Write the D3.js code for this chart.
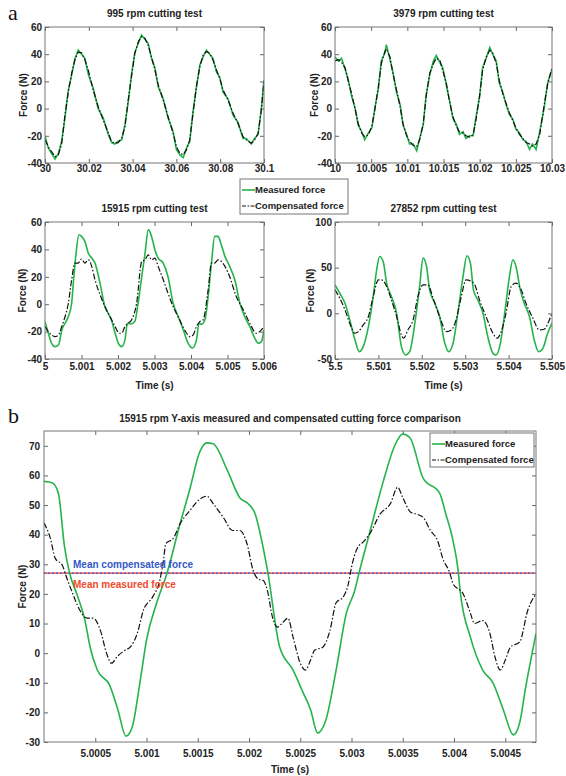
<!DOCTYPE html>
<html>
<head>
<meta charset="utf-8">
<script src="https://cdn.jsdelivr.net/npm/d3@7"></script>
<style>
  body { margin: 0; background: #fff; }
  text { font-family: "Liberation Sans", Arial, sans-serif; }
</style>
</head>
<body>
<svg id="chart" width="566" height="776"></svg>
<script>
// ---- 995 rpm ----
const t995 = [30.0000, 30.0015, 30.0030, 30.0046, 30.0061, 30.0076, 30.0091, 30.0106, 30.0122, 30.0137,
  30.0152, 30.0167, 30.0182, 30.0198, 30.0220, 30.0243, 30.0266, 30.0289, 30.0304, 30.0319,
  30.0334, 30.0350, 30.0365, 30.0380, 30.0395, 30.0410, 30.0426, 30.0441, 30.0456, 30.0471,
  30.0486, 30.0502, 30.0517, 30.0540, 30.0562, 30.0585, 30.0600, 30.0616, 30.0631, 30.0646,
  30.0661, 30.0676, 30.0691, 30.0707, 30.0722, 30.0737, 30.0752, 30.0767, 30.0783, 30.0798,
  30.0813, 30.0836, 30.0859, 30.0881, 30.0904, 30.0919, 30.0942, 30.0957, 30.0973, 30.0988, 30.1000];
const measured995 = [-20, -29, -33, -37, -33, -24, -7, 13, 25, 37, 43, 40, 37, 25, 15, 0, -7, -19, -25, -26,
  -24, -23, -12, 5, 25, 41, 48, 54, 51, 48, 37, 30, 16, 7, -7, -17, -30, -34, -36, -29,
  -24, -2, 15, 32, 38, 43, 40, 37, 27, 23, 12, 7, -5, -10, -22, -22, -26, -22, -19, 0, 21];
const compensated995 = [-23, -28, -31.7, -35.3, -34, -26, -5, 12, 26, 36, 41.5, 41, 36, 28, 13.7, 1.4, -8.4, -18, -24.3, -25.5,
  -25, -21.9, -13.3, 6.3, 23.5, 40.6, 49.2, 52.9, 51.7, 46.8, 38.2, 28.4, 17.4, 6.3, -6, -18, -28, -32.9, -34, -30.4,
  -23, -3.5, 16, 30.8, 39.4, 41.9, 40.6, 35.7, 28.4, 22.3, 13.7, 6.3, -3.5, -10.8, -20.6, -23, -25.5, -23, -18.2, -1, 21];
const xTicks995 = [30, 30.02, 30.04, 30.06, 30.08, 30.1];

// ---- 3979 rpm ----
const t3979 = [10.0000, 10.0005, 10.0009, 10.0014, 10.0018, 10.0023, 10.0028, 10.0032, 10.0037, 10.0041,
  10.0046, 10.0051, 10.0055, 10.0060, 10.0064, 10.0069, 10.0071, 10.0076, 10.0080, 10.0085,
  10.0090, 10.0094, 10.0099, 10.0103, 10.0108, 10.0113, 10.0117, 10.0122, 10.0126, 10.0131,
  10.0136, 10.0140, 10.0145, 10.0149, 10.0154, 10.0158, 10.0163, 10.0168, 10.0172, 10.0177,
  10.0181, 10.0186, 10.0191, 10.0195, 10.0200, 10.0204, 10.0209, 10.0214, 10.0218, 10.0223,
  10.0227, 10.0232, 10.0237, 10.0241, 10.0246, 10.0250, 10.0255, 10.0260, 10.0264, 10.0269,
  10.0273, 10.0278, 10.0283, 10.0289, 10.0294, 10.0300];
const measured3979 = [38, 35, 37, 29, 22, 9, 0, -12, -17, -23, -18, -14, 0, 15, 35, 41, 47, 36, 27, 12,
  3, -12, -19, -26, -26, -31, -22, -12, 10, 25, 35, 39, 34, 30, 17, 7, -7, -12, -19, -17,
  -22, -20, -20, -6, 9, 30, 37, 45, 40, 35, 19, 12, 2, -4, -8, -15, -18, -23, -24, -30,
  -26, -30, -17, 0, 19, 29];
const compensated3979 = [35, 36, 34, 30, 21, 11, -1, -11, -18, -20.6, -19.5, -13, -1, 16, 33, 42, 44, 38, 26, 14,
  1.5, -11, -20, -24, -27, -28, -23, -11, 9, 26, 33, 37, 35.5, 28, 18.5, 6, -6, -13, -17, -18,
  -20, -21, -19, -8, 10, 28, 38, 43, 41, 33, 21, 11, 3, -3, -9, -14, -19, -22, -25, -26,
  -27.5, -26, -19, 2, 18, 30];
const xTicks3979 = [10, 10.005, 10.01, 10.015, 10.02, 10.025, 10.03];

// ---- 15915 rpm ----
const t15915m = [5.00000, 5.00009, 5.00018, 5.00027, 5.00037, 5.00046, 5.00055, 5.00064, 5.00073, 5.00079,
  5.00085, 5.00093, 5.00100, 5.00109, 5.00119, 5.00128, 5.00137, 5.00151, 5.00164, 5.00173,
  5.00182, 5.00192, 5.00201, 5.00210, 5.00219, 5.00226, 5.00235, 5.00246, 5.00255, 5.00265,
  5.00274, 5.00283, 5.00292, 5.00301, 5.00310, 5.00324, 5.00337, 5.00351, 5.00365, 5.00379,
  5.00392, 5.00404, 5.00415, 5.00422, 5.00429, 5.00438, 5.00447, 5.00456, 5.00465, 5.00474,
  5.00483, 5.00493, 5.00506, 5.00520, 5.00534, 5.00547, 5.00561, 5.00575, 5.00584, 5.00593, 5.00600];
const measured15915 = [-12.7, -21, -28.5, -31, -29.8, -18.8, -13.9, -9, 0.7, 20, 37, 50.7, 49.5, 46, 37, 33.7, 30, 15, -1.7, -6.6,
  -11.5, -21, -28.5, -31, -26, -13.9, -14.4, -12.7, 0.7, 20, 37, 54.4, 49.5, 39.8, 33.7, 30, 20, 0.7, -9, -18.8,
  -28.5, -32, -26, -13.9, -14.6, -11.5, 5.6, 30, 49.5, 49.5, 43.4, 34.9, 27.6, 17.8, 0.7, -9, -16.3, -24.9, -28.5, -27.3, -18.8];
const t15915c = [5.00000, 5.00009, 5.00018, 5.00027, 5.00037, 5.00046, 5.00055, 5.00064, 5.00073, 5.00082,
  5.00091, 5.00100, 5.00109, 5.00119, 5.00128, 5.00137, 5.00151, 5.00164, 5.00178, 5.00192,
  5.00203, 5.00210, 5.00219, 5.00228, 5.00237, 5.00251, 5.00265, 5.00274, 5.00283, 5.00292,
  5.00301, 5.00310, 5.00324, 5.00337, 5.00351, 5.00369, 5.00388, 5.00397, 5.00406, 5.00415,
  5.00424, 5.00433, 5.00447, 5.00456, 5.00465, 5.00474, 5.00483, 5.00493, 5.00506, 5.00524,
  5.00543, 5.00561, 5.00579, 5.00588, 5.00600];
const compensated15915 = [-16.3, -20, -22.4, -23.7, -22.4, -16.3, -9, 0.7, 17.8, 30, 30, 33, 30, 32.4, 27.6, 17.8, 6.8, -1.7, -9, -16.3,
  -21.2, -21.2, -16.3, -13.9, -11.5, 0.7, 31.2, 32.4, 36, 32.4, 33.7, 27.6, 17.8, 8, -1.7, -11.5, -21.2, -23.7, -22.4, -16.3,
  -12.7, -11.5, 10.5, 30, 30, 32.4, 31.2, 27.6, 20, 5.6, -4, -13.9, -21.2, -20, -16.3];
const xTicks15915 = [5, 5.001, 5.002, 5.003, 5.004, 5.005, 5.006];

// ---- 27852 rpm ----
const t27852m = [5.50000, 5.50011, 5.50023, 5.50034, 5.50046, 5.50056, 5.50065, 5.50077, 5.50088, 5.50096,
  5.50103, 5.50111, 5.50119, 5.50130, 5.50142, 5.50153, 5.50163, 5.50172, 5.50184, 5.50195,
  5.50203, 5.50211, 5.50218, 5.50230, 5.50241, 5.50253, 5.50262, 5.50272, 5.50283, 5.50295,
  5.50304, 5.50312, 5.50319, 5.50329, 5.50341, 5.50352, 5.50364, 5.50371, 5.50381, 5.50391,
  5.50402, 5.50410, 5.50417, 5.50427, 5.50436, 5.50448, 5.50459, 5.50469, 5.50479, 5.50490, 5.50500];
const measured27852 = [31.2, 22, 11, -7.2, -29, -42, -36.5, -14.5, 18.4, 47.7, 62.3, 56.8, 33, 18.4, 0.1, -36.5, -45.6, -42, -10.8, 29.4,
  60.5, 51.3, 25.7, 11, -3.5, -32.8, -42, -32.8, 0.1, 40.4, 63, 55, 25.7, 14.7, 0.1, -25.5, -43.8, -45.6, -32.8, 0.1,
  40.4, 58.6, 51.3, 25.7, 11, -3.5, -29, -42, -38.3, -21.8, -10.8];
const t27852c = [5.50000, 5.50011, 5.50023, 5.50034, 5.50046, 5.50054, 5.50065, 5.50077, 5.50088, 5.50100,
  5.50107, 5.50119, 5.50130, 5.50142, 5.50153, 5.50158, 5.50168, 5.50180, 5.50191, 5.50203,
  5.50214, 5.50226, 5.50241, 5.50257, 5.50268, 5.50279, 5.50291, 5.50302, 5.50314, 5.50322,
  5.50333, 5.50348, 5.50364, 5.50373, 5.50383, 5.50394, 5.50406, 5.50417, 5.50429, 5.50440,
  5.50456, 5.50471, 5.50482, 5.50494, 5.50500];
const compensated27852 = [25.7, 16.6, 3.8, -10.8, -21.8, -20, -12.7, -3.5, 18.4, 36.7, 36.7, 29.4, 14.7, -3.5, -23.7, -27.3, -18.2, -7.2, 18.4, 31.2,
  31.2, 16.6, -3.5, -20, -18.2, -7.2, 18.4, 36.7, 34.9, 31.2, 14.7, -3.5, -21.8, -27.3, -20, 0.1, 29.4, 33, 25.7, 11,
  -5.4, -18.2, -17.4, -7.2, 0.1];
const xTicks27852 = [5.5, 5.501, 5.502, 5.503, 5.504, 5.505];

// ---- panel b: 15915 rpm Y-axis ----
const tBm = [5.00000, 5.00008, 5.00014, 5.00020, 5.00025, 5.00032, 5.00040, 5.00045, 5.00052, 5.00064,
  5.00072, 5.00080, 5.00086, 5.00094, 5.00100, 5.00110, 5.00120, 5.00133, 5.00142, 5.00152,
  5.00159, 5.00165, 5.00179, 5.00191, 5.00199, 5.00206, 5.00213, 5.00218, 5.00230, 5.00243,
  5.00253, 5.00260, 5.00267, 5.00275, 5.00285, 5.00295, 5.00303, 5.00308, 5.00318, 5.00331,
  5.00343, 5.00350, 5.00357, 5.00370, 5.00386, 5.00392, 5.00399, 5.00404, 5.00406, 5.00416,
  5.00428, 5.00438, 5.00448, 5.00458, 5.00464, 5.00470, 5.00480];
const measuredB = [58, 57.5, 54, 36, 27, 20, 11, 2, -5.7, -10.8, -19, -28, -25, -9, 4.4, 17, 27, 44, 55, 68,
  71, 70.7, 61.6, 52.5, 50.5, 47, 37, 28, 2, -5.7, -13.5, -19, -27, -22.6, -5.7, 13.5, 21, 28, 41, 58,
  70.7, 74, 72.7, 59, 54, 47, 38, 28, 21, 5.4, -5.7, -10, -19, -27.6, -23.6, -11.4, 6.7];
const tBc = [5.00000, 5.00006, 5.00011, 5.00018, 5.00022, 5.00027, 5.00035, 5.00042, 5.00048, 5.00055,
  5.00061, 5.00066, 5.00071, 5.00079, 5.00084, 5.00091, 5.00097, 5.00106, 5.00113, 5.00116,
  5.00119, 5.00126, 5.00133, 5.00142, 5.00152, 5.00159, 5.00165, 5.00175, 5.00184, 5.00191,
  5.00198, 5.00204, 5.00209, 5.00214, 5.00218, 5.00223, 5.00228, 5.00232, 5.00238, 5.00243,
  5.00250, 5.00255, 5.00260, 5.00264, 5.00272, 5.00279, 5.00285, 5.00292, 5.00297, 5.00300,
  5.00306, 5.00311, 5.00318, 5.00328, 5.00338, 5.00345, 5.00350, 5.00358, 5.00363, 5.00370,
  5.00377, 5.00384, 5.00389, 5.00396, 5.00399, 5.00409, 5.00416, 5.00420, 5.00428, 5.00435,
  5.00440, 5.00445, 5.00450, 5.00455, 5.00464, 5.00472, 5.00480];
const compensatedB = [44, 39, 32, 29.6, 25.6, 21, 14.5, 11.8, 11.8, 7.7, 0, -3.4, -1.3, 1, 2, 6.7, 14.5, 19, 24.6, 30,
  37, 38.7, 43.8, 48, 52, 53, 50.5, 45.8, 41.4, 41.4, 37, 28, 25, 24.5, 21, 12, 8.8, 10, 11.8, 5.4,
  -3.4, -5.7, -2.4, 1, 2, 7.7, 17, 19, 23.5, 29, 35.7, 37.4, 40.4, 47, 50.5, 56, 52.5, 47.5, 47, 45.8,
  41.4, 38, 32, 27, 23.5, 20, 13.5, 10, 11, 6.7, -1.3, -5.7, -2.4, 2, 3.7, 14.5, 20];
const meanMeasuredB = 27;
const meanCompensatedB = 27;
const xTicksB = [5.0005, 5.001, 5.0015, 5.002, 5.0025, 5.003, 5.0035, 5.004, 5.0045];
const yTicksB = [-30, -20, -10, 0, 10, 20, 30, 40, 50, 60, 70];

const yTicksA = [-40, -20, 0, 20, 40, 60];
const yTicks27852 = [-50, 0, 50, 100];

const green = "#25b34b";
const dashDot = "6,2,1.5,2";
const svg = d3.select("#chart");

function zip(t, v) {
  return t.map((d, i) => [d, v[i]]);
}

let clipId = 0;

function drawPanel(cfg) {
  const g = svg.append("g")
    .attr("transform", `translate(${cfg.left},${cfg.top})`);

  const x = d3.scaleLinear().domain(cfg.xDomain).range([0, cfg.width]);
  const y = d3.scaleLinear().domain(cfg.yDomain).range([cfg.height, 0]);

  const id = "clip" + (clipId++);
  g.append("clipPath").attr("id", id)
    .append("rect").attr("width", cfg.width).attr("height", cfg.height);

  const fmt = d => String(d);
  const fs = cfg.fontSize || 10;

  // axes, matlab style ticks pointing inward on all four sides
  const xb = g.append("g").attr("transform", `translate(0,${cfg.height})`)
    .call(d3.axisBottom(x).tickValues(cfg.xTicks).tickFormat(fmt)
      .tickSizeInner(-4).tickSizeOuter(0).tickPadding(cfg.xPad));
  const xt = g.append("g")
    .call(d3.axisTop(x).tickValues(cfg.xTicks).tickFormat("")
      .tickSizeInner(-4).tickSizeOuter(0));
  const yl = g.append("g")
    .call(d3.axisLeft(y).tickValues(cfg.yTicks).tickFormat(fmt)
      .tickSizeInner(-4).tickSizeOuter(0).tickPadding(cfg.yPad));
  const yr = g.append("g").attr("transform", `translate(${cfg.width},0)`)
    .call(d3.axisRight(y).tickValues(cfg.yTicks).tickFormat("")
      .tickSizeInner(-4).tickSizeOuter(0));

  [xb, xt, yl, yr].forEach(a => {
    a.select(".domain").remove();
    a.selectAll("line").attr("stroke", "#666");
    a.selectAll("text")
      .style("font-family", '"Liberation Sans", Arial, sans-serif')
      .attr("font-size", fs)
      .attr("font-weight", "bold")
      .attr("fill", "#222");
  });

  const plot = g.append("g").attr("clip-path", `url(#${id})`);

  if (cfg.means) {
    cfg.means.forEach(m => {
      plot.append("line")
        .attr("x1", 0).attr("x2", cfg.width)
        .attr("y1", y(m.value)).attr("y2", y(m.value))
        .attr("stroke", m.color).attr("stroke-width", 1.3)
        .attr("stroke-dasharray", m.dash);
    });
  }

  const line = d3.line()
    .x(d => x(d[0]))
    .y(d => y(d[1]))
    .curve(cfg.smooth ? d3.curveMonotoneX : d3.curveLinear);

  plot.append("path")
    .datum(zip(cfg.tMeasured, cfg.measured))
    .attr("fill", "none")
    .attr("stroke", green)
    .attr("stroke-width", 1.6)
    .attr("d", line);

  plot.append("path")
    .datum(zip(cfg.tCompensated, cfg.compensated))
    .attr("fill", "none")
    .attr("stroke", "#111")
    .attr("stroke-width", 1.2)
    .attr("stroke-dasharray", dashDot)
    .attr("d", line);

  // box
  g.append("rect")
    .attr("width", cfg.width).attr("height", cfg.height)
    .attr("fill", "none").attr("stroke", "#777").attr("stroke-width", 1);

  // title
  g.append("text")
    .attr("x", cfg.width / 2).attr("y", cfg.titleY)
    .attr("text-anchor", "middle")
    .attr("font-size", fs).attr("font-weight", "bold").attr("fill", "#222")
    .text(cfg.title);

  // y label
  g.append("text")
    .attr("transform", `translate(${-cfg.yLabelOffset},${cfg.height / 2}) rotate(-90)`)
    .attr("text-anchor", "middle")
    .attr("dy", "0.35em")
    .attr("font-size", fs).attr("font-weight", "bold").attr("fill", "#222")
    .text("Force (N)");

  if (cfg.xLabelY) {
    g.append("text")
      .attr("x", cfg.width / 2).attr("y", cfg.xLabelY)
      .attr("text-anchor", "middle")
      .attr("font-size", fs).attr("font-weight", "bold").attr("fill", "#222")
      .text("Time (s)");
  }

  return { g, x, y };
}

function drawLegend(x0, y0, w, h) {
  const lg = svg.append("g").attr("transform", `translate(${x0},${y0})`);
  lg.append("rect")
    .attr("width", w).attr("height", h)
    .attr("fill", "#fff").attr("stroke", "#777");
  const rows = [
    { label: "Measured force", color: green, dash: null, width: 1.6 },
    { label: "Compensated force", color: "#111", dash: "4,1.5,1.5,1.5", width: 1.2 }
  ];
  rows.forEach((r, i) => {
    const yy = 11 + i * 16;
    lg.append("line")
      .attr("x1", 2).attr("x2", 15).attr("y1", yy).attr("y2", yy)
      .attr("stroke", r.color).attr("stroke-width", r.width)
      .attr("stroke-dasharray", r.dash);
    lg.append("text")
      .attr("x", 15).attr("y", yy).attr("dy", "0.35em")
      .attr("font-size", 9.5).attr("font-weight", "bold").attr("fill", "#222")
      .text(r.label);
  });
}

// ---- part a ----
drawPanel({
  left: 45, top: 27, width: 219, height: 136,
  xDomain: [30, 30.1], yDomain: [-40, 60],
  xTicks: xTicks995, yTicks: yTicksA, xPad: 2, yPad: 3,
  tMeasured: t995, measured: measured995,
  tCompensated: t995, compensated: compensated995,
  title: "995 rpm cutting test", titleY: -10, yLabelOffset: 22
});

drawPanel({
  left: 335, top: 27, width: 217, height: 136,
  xDomain: [10, 10.03], yDomain: [-40, 60],
  xTicks: xTicks3979, yTicks: yTicksA, xPad: 2, yPad: 3,
  tMeasured: t3979, measured: measured3979,
  tCompensated: t3979, compensated: compensated3979,
  title: "3979 rpm cutting test", titleY: -10, yLabelOffset: 21
});

drawPanel({
  left: 45, top: 222, width: 219, height: 137,
  xDomain: [5, 5.006], yDomain: [-40, 60],
  xTicks: xTicks15915, yTicks: yTicksA, xPad: 4, yPad: 3, smooth: true,
  tMeasured: t15915m, measured: measured15915,
  tCompensated: t15915c, compensated: compensated15915,
  title: "15915 rpm cutting test", titleY: -10, yLabelOffset: 23, xLabelY: 167
});

drawPanel({
  left: 335, top: 222, width: 217, height: 137,
  xDomain: [5.5, 5.505], yDomain: [-50, 100],
  xTicks: xTicks27852, yTicks: yTicks27852, xPad: 4, yPad: 3, smooth: true,
  tMeasured: t27852m, measured: measured27852,
  tCompensated: t27852c, compensated: compensated27852,
  title: "27852 rpm cutting test", titleY: -10, yLabelOffset: 25, xLabelY: 167
});

drawLegend(240, 179, 108, 35);

// ---- part b ----
const pb = drawPanel({
  left: 44, top: 431, width: 492, height: 311,
  xDomain: [5, 5.0048], yDomain: [-30, 75],
  xTicks: xTicksB, yTicks: yTicksB, xPad: 8, yPad: 4, smooth: true,
  tMeasured: tBm, measured: measuredB,
  tCompensated: tBc, compensated: compensatedB,
  means: [
    { value: meanMeasuredB, color: "#e8352b", dash: null },
    { value: meanCompensatedB, color: "#3b5bd6", dash: "2,2" }
  ],
  title: "15915 rpm Y-axis measured and compensated cutting force comparison",
  titleY: -9, yLabelOffset: 22, xLabelY: 342
});

pb.g.append("text")
  .attr("x", 29).attr("y", pb.y(meanCompensatedB) - 5)
  .attr("font-size", 10).attr("font-weight", "bold").attr("fill", "#3458c8")
  .text("Mean compensated force");
pb.g.append("text")
  .attr("x", 29).attr("y", pb.y(meanMeasuredB) + 15)
  .attr("font-size", 10).attr("font-weight", "bold").attr("fill", "#f04a2a")
  .text("Mean measured force");

drawLegend(430, 433, 104, 34);

// panel letters
svg.append("text").attr("x", 8).attr("y", 20)
  .style("font-family", '"Liberation Serif", "DejaVu Serif", serif')
  .attr("font-size", 22).attr("fill", "#111").text("a");
svg.append("text").attr("x", 8).attr("y", 423)
  .style("font-family", '"Liberation Serif", "DejaVu Serif", serif')
  .attr("font-size", 22).attr("fill", "#111").text("b");
</script>
</body>
</html>
